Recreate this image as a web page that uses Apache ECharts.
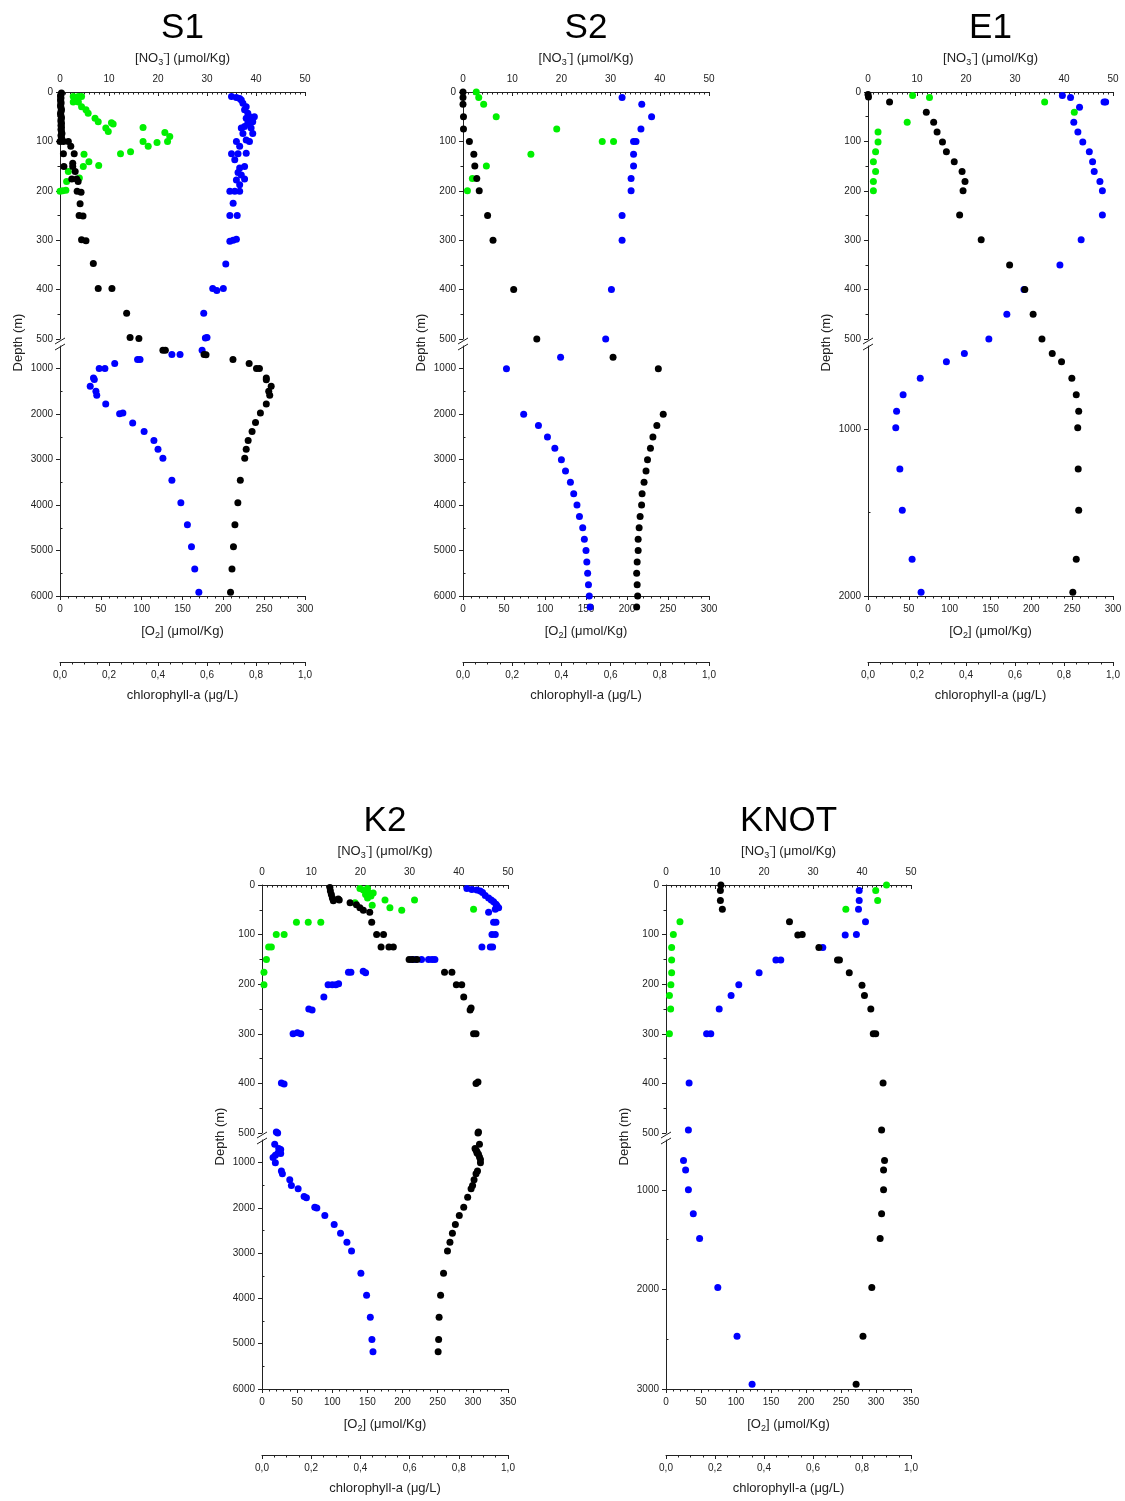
<!DOCTYPE html>
<html>
<head>
<meta charset="utf-8">
<script src="https://cdn.jsdelivr.net/npm/echarts@6/dist/echarts.min.js"></script>
<style>
  html, body { margin: 0; padding: 0; background: #fff; }
  #chart { width: 1125px; height: 1501px; }
</style>
</head>
<body>
<div id="chart"></div>
<script>
// [depth (m), value] pairs
// NO3 in µmol/kg, O2 in µmol/kg, chlorophyll-a in µg/L
const S1_NO3 = [[2,0.3],[5,0.2],[8,0.1],[12,0.2],[16,0.1],[20,0.2],[24,0.2],[28,0.1],[32,0.2],[36,0.3],[40,0.2],[44,0.1],[48,0.2],[52,0.3],[56,0.2],[60,0.2],[64,0.3],[68,0.2],[72,0.3],[76,0.2],[80,0.3],[84,0.4],[88,0.2],[92,0.3],[96,0.4],
  [100,0.0],[100,0.7],[100,1.7],[110,2.2],[125,0.7],[125,2.9],[144,2.6],[151,0.8],[151,2.6],[161,3.1],[176,2.4],[176,3.4],[181,3.7],[201,3.5],[203,4.3],[226,4.1],[250,3.9],[251,4.7],[299,4.4],[301,5.3],[347,6.8],[398,7.8],[398,10.6],[448,13.6],[497,14.3],[499,16.1],
  [593,21.0],[595,21.5],[688,29.4],[690,29.8],[798,35.3],[886,38.6],[997,40.1],[997,40.7],[1202,42.1],[1240,42.1],[1387,43.1],[1497,42.6],[1585,42.8],[1776,42.1],[1974,40.9],[2182,39.9],[2380,39.2],[2579,38.4],[2769,38.0],[2968,37.7],[3453,36.8],[3947,36.3],[4433,35.7],[4918,35.4],[5404,35.1],[5918,34.8]];
const S1_O2 = [[9,210],[11,216],[13,220],[16,222],[23,224],[30,228],[36,226],[43,230],[50,232],[50,238],[53,228],[60,236],[63,230],[70,226],[73,222],[73,234],[84,236],[84,224],[97,228],[100,216],[100,232],[110,220],[124,228],[125,210],[125,218],[137,214],[151,226],[154,220],[163,218],[168,222],[176,226],[178,216],[188,220],[201,208],[201,214],[201,220],[225,212],[250,208],[250,217],[298,216],[300,212],[302,208],[348,203],[398,187],[402,192],[398,200],[448,176],[497,180],[498,178],
  [593,174],[688,137],[688,147],[798,98],[798,95],[886,67],[997,48],[997,55],[1202,41],[1239,42],[1387,37],[1497,44],[1586,45],[1776,56],[1974,77],[1990,73],[2192,89],[2380,103],[2579,115],[2769,120],[2968,126],[3453,137],[3947,148],[4433,156],[4918,161],[5404,165],[5918,170]];
const S1_CHL = [[9,0.054],[9,0.075],[9,0.088],[16,0.061],[20,0.054],[20,0.075],[30,0.088],[36,0.106],[43,0.115],[53,0.143],[60,0.156],[62,0.21],[65,0.217],[73,0.187],[80,0.197],[72,0.339],[82,0.428],[90,0.448],[100,0.339],[102,0.396],[100,0.439],[110,0.36],[121,0.288],[125,0.247],[126,0.098],[141,0.118],[149,0.158],[151,0.095],[161,0.034],[174,0.079],[181,0.027],[199,0.024],[201,0.0],[200,0.011]];

const S2_NO3 = [[0,0],[11,0],[25,0],[50,0.1],[75,0.1],[100,1.3],[126,2.2],[150,2.4],[175,2.8],[200,3.3],[250,5.0],[300,6.1],[400,10.3],[500,15.0],
  [750,30.5],[1000,39.7],[2000,40.7],[2250,39.4],[2500,38.6],[2750,38.1],[3000,37.5],[3250,37.2],[3500,36.8],[3750,36.4],[4000,36.3],[4250,36.0],[4500,35.8],[4750,35.6],[5000,35.6],[5250,35.4],[5500,35.3],[5750,35.4],[6000,35.5],[6240,35.3]];
const S2_O2 = [[11,194],[25,218],[50,230],[75,217],[100,208],[100,211],[126,208],[150,208],[175,205],[200,205],[250,194],[300,194],[400,181],[500,174],
  [750,119],[1000,53],[2000,74],[2250,92],[2500,103],[2750,112],[3000,120],[3250,125],[3500,131],[3750,135],[4000,139],[4250,142],[4500,146],[4750,148],[5000,150],[5250,151],[5500,152],[5750,153],[6000,154],[6240,155]];
const S2_CHL = [[0,0.054],[11,0.064],[25,0.084],[50,0.135],[75,0.381],[100,0.566],[100,0.612],[126,0.276],[150,0.095],[175,0.038],[200,0.018]];

const E1_NO3 = [[5,0],[10,0.1],[20,4.4],[41,11.9],[61,13.4],[81,14.1],[101,15.2],[121,16.0],[141,17.6],[161,19.2],[181,19.8],[200,19.4],[249,18.7],[299,23.1],[350,28.9],[400,32.0],[450,33.7],[500,35.5],
  [545,37.6],[595,39.5],[693,41.6],[792,42.5],[892,43.0],[990,42.8],[1238,42.9],[1485,43.0],[1780,42.5],[1978,41.8]];
const E1_O2 = [[7,238],[11,248],[20,289],[20,291],[31,259],[61,252],[81,257],[101,263],[121,271],[141,275],[161,277],[181,284],[200,287],[249,287],[299,261],[350,235],[400,191],[450,170],[500,148],
  [545,118],[595,96],[693,64],[792,43],[892,35],[990,34],[1238,39],[1485,42],[1780,54],[1978,65]];
const E1_CHL = [[7,0.182],[11,0.251],[20,0.721],[41,0.842],[61,0.160],[81,0.041],[101,0.041],[121,0.031],[141,0.022],[161,0.031],[181,0.022],[200,0.022]];

const K2_NO3 = [[5,13.8],[12,13.9],[19,14.1],[26,14.3],[32,14.5],[28,15.5],[30,15.7],[36,17.9],[40,19.2],[46,19.9],[51,20.6],[55,21.9],[75,22.3],[100,23.3],[100,24.7],[125,24.2],[125,25.8],[125,26.7],[150,29.9],[150,30.6],[150,31.5],[176,37.1],[176,38.6],[201,39.5],[201,40.6],[226,41.0],[248,42.5],[252,42.3],[300,43.0],[300,43.5],[397,43.9],[400,43.5],[498,44.0],[500,43.9],
  [593,44.2],[689,43.3],[720,43.5],[760,43.7],[785,43.7],[815,44.0],[874,44.2],[933,44.4],[1000,44.4],[1185,43.8],[1244,43.5],[1377,43.1],[1503,42.8],[1577,42.5],[1762,41.8],[1984,41.0],[2169,40.1],[2368,39.3],[2561,38.7],[2760,38.2],[2953,37.7],[3441,36.9],[3929,36.3],[4417,36.0],[4905,35.9],[5179,35.8]];
const K2_O2 = [[7,291.5],[9,298.6],[10,305.8],[12,310.5],[15,313.8],[21,317.6],[26,322.4],[30,326.2],[34,329.5],[39,332.9],[42,334.3],[46,336.7],[49,331.9],[55,322.4],[75,329.5],[75,332.9],[100,327.2],[100,331.9],[125,312.9],[125,324.8],[125,328.1],[150,213],[150,218],[150,227],[150,237],[150,242],[150,246],[176,123],[176,126.5],[174,144],[177,147.4],[201,94],[201,100],[201,105],[199,109],[226,88],[250,66.6],[252,71.3],[300,44.2],[298,50.4],[300,55.2],[399,27.6],[401,31.4],[498,20.4],[500,22.3],
  [593,18.1],[689,23.8],[712,26.6],[785,22.8],[800,26.6],[837,19],[889,15.7],[1000,19],[1185,27.6],[1244,29],[1377,39.5],[1503,41.8],[1577,51.4],[1747,59.9],[1777,63.2],[1984,75.1],[2000,78],[2169,89.4],[2368,102.7],[2561,111.7],[2760,120.8],[2953,127.4],[3441,140.7],[3929,148.8],[4417,154.1],[4905,156.4],[5179,157.9]];
const K2_CHL = [[7,0.398],[10,0.412],[7,0.429],[16,0.435],[19,0.421],[26,0.429],[22,0.443],[16,0.452],[36,0.378],[41,0.448],[30,0.50],[46,0.52],[51,0.568],[30,0.62],[49,0.86],[75,0.14],[75,0.188],[75,0.239],[100,0.058],[100,0.09],[125,0.027],[125,0.038],[150,0.018],[176,0.008],[201,0.008]];

const KNOT_NO3 = [[0,11.2],[11,11.1],[31,11.1],[49,11.5],[74,25.2],[101,26.9],[100,27.8],[126,31.2],[151,35.0],[151,35.4],[177,37.4],[202,40.0],[223,40.5],[250,41.8],[300,42.3],[300,42.8],[399,44.3],[494,44.0],
  [707,44.6],[800,44.4],[1000,44.4],[1240,44.0],[1490,43.7],[1980,42.0],[2470,40.2],[2953,38.8]];
const KNOT_O2 = [[11,276],[31,276],[49,275],[74,285],[101,256],[100,272],[126,224],[151,157],[151,164],[177,133],[201,104],[223,93],[250,76],[300,58],[300,64],[399,33],[494,32],
  [707,25],[800,28],[1000,32],[1240,39],[1490,48],[1980,74],[2470,101.5],[2953,123]];
const KNOT_CHL = [[0,0.90],[11,0.856],[31,0.864],[49,0.734],[74,0.057],[100,0.03],[126,0.023],[151,0.023],[177,0.023],[201,0.02],[223,0.014],[250,0.019],[300,0.014]];

// tick labels of the broken depth axis (lower part)
const DEEP_6000_MAJOR = [1000, 2000, 3000, 4000, 5000, 6000];
const DEEP_6000_MINOR = [1500, 2500, 3500, 4500, 5500];
const DEEP_2000_MAJOR = [1000, 2000];
const DEEP_2000_MINOR = [1500];
const DEEP_3000_MAJOR = [1000, 2000, 3000];
const DEEP_3000_MINOR = [1500, 2500];

const FONT = '"Liberation Sans", Arial, sans-serif';
const INK = '#222';
const BREAK_DEPTH = 500;

// rows: upper (0-500 m) and lower (500 m - bottom) plot boxes
const ROW_TOP = { upperTop: 92, upperH: 247, lowerTop: 346, lowerH: 250 };
const ROW_BOTTOM = { upperTop: 885, upperH: 248, lowerTop: 1140, lowerH: 249 };

const stations = [
  { name: 'S1', no3: S1_NO3, o2: S1_O2, chl: S1_CHL, left: 60, width: 245, row: ROW_TOP, deepMax: 6000, major: DEEP_6000_MAJOR, minor: DEEP_6000_MINOR, o2Max: 300 },
  { name: 'S2', no3: S2_NO3, o2: S2_O2, chl: S2_CHL, left: 463, width: 246, row: ROW_TOP, deepMax: 6000, major: DEEP_6000_MAJOR, minor: DEEP_6000_MINOR, o2Max: 300 },
  { name: 'E1', no3: E1_NO3, o2: E1_O2, chl: E1_CHL, left: 868, width: 245, row: ROW_TOP, deepMax: 2000, major: DEEP_2000_MAJOR, minor: DEEP_2000_MINOR, o2Max: 300 },
  { name: 'K2', no3: K2_NO3, o2: K2_O2, chl: K2_CHL, left: 262, width: 246, row: ROW_BOTTOM, deepMax: 6000, major: DEEP_6000_MAJOR, minor: DEEP_6000_MINOR, o2Max: 350 },
  { name: 'KNOT', no3: KNOT_NO3, o2: KNOT_O2, chl: KNOT_CHL, left: 666, width: 245, row: ROW_BOTTOM, deepMax: 3000, major: DEEP_3000_MAJOR, minor: DEEP_3000_MINOR, o2Max: 350 }
];

const lineStyle = { color: INK, width: 1 };
const labelStyle = { fontSize: 10, color: INK, fontFamily: FONT };
const nameStyle = {
  fontSize: 13, color: INK, fontFamily: FONT, lineHeight: 18,
  rich: {
    sub: { fontSize: 9, color: INK, fontFamily: FONT, verticalAlign: 'bottom' },
    sup: { fontSize: 9, color: INK, fontFamily: FONT, verticalAlign: 'top' }
  }
};
const plain = v => String(v);

const grids = [], xAxes = [], yAxes = [], series = [], graphics = [];

function hiddenX(gridIndex, max) {
  xAxes.push({ gridIndex, type: 'value', min: 0, max, show: false });
  return xAxes.length - 1;
}

function addScatter(xi, yi, data, color) {
  if (!data.length) return;
  series.push({
    type: 'scatter', xAxisIndex: xi, yAxisIndex: yi, data,
    symbolSize: 7, itemStyle: { color, opacity: 1 }, clip: false, silent: true
  });
}

// split [depth, value] into upper/lower parts as [value, depth]
function part(list, upper) {
  return list.filter(d => upper ? d[0] <= BREAK_DEPTH : d[0] > BREAK_DEPTH).map(d => [d[1], d[0]]);
}

stations.forEach(st => {
  const r = st.row;
  const gU = grids.length;
  grids.push({ left: st.left, top: r.upperTop, width: st.width, height: r.upperH });
  const gL = grids.length;
  grids.push({ left: st.left, top: r.lowerTop, width: st.width, height: r.lowerH });

  // upper box: NO3 axis on top
  xAxes.push({
    gridIndex: gU, type: 'value', position: 'top', min: 0, max: 50, interval: 10,
    axisLine: { show: true, onZero: false, lineStyle },
    axisTick: { show: true, inside: true, length: 4, lineStyle },
    minorTick: { show: true, splitNumber: 10, length: 2.5, lineStyle },
    axisLabel: Object.assign({ margin: 8, formatter: plain }, labelStyle),
    splitLine: { show: false },
    name: '[NO{sub|3}{sup|-}] (μmol/Kg)', nameLocation: 'middle', nameGap: 25,
    nameTextStyle: nameStyle
  });
  const xNo3U = xAxes.length - 1;
  const xO2U = hiddenX(gU, st.o2Max);
  const xChlU = hiddenX(gU, 1);

  // lower box: O2 axis and chlorophyll axis at the bottom
  const xNo3L = hiddenX(gL, 50);
  xAxes.push({
    gridIndex: gL, type: 'value', position: 'bottom', min: 0, max: st.o2Max, interval: 50,
    axisLine: { show: true, onZero: false, lineStyle },
    axisTick: { show: true, length: 4, lineStyle },
    minorTick: { show: true, splitNumber: 5, length: 2.5, lineStyle },
    axisLabel: Object.assign({ margin: 8, formatter: plain }, labelStyle),
    splitLine: { show: false },
    name: '[O{sub|2}] (μmol/Kg)', nameLocation: 'middle', nameGap: 26,
    nameTextStyle: nameStyle
  });
  const xO2L = xAxes.length - 1;
  xAxes.push({
    gridIndex: gL, type: 'value', position: 'bottom', offset: 66, min: 0, max: 1, interval: 0.2,
    axisLine: { show: true, onZero: false, lineStyle },
    axisTick: { show: true, length: 4, lineStyle },
    minorTick: { show: true, splitNumber: 4, length: 2.5, lineStyle },
    axisLabel: Object.assign({ margin: 8, formatter: v => v.toFixed(1).replace('.', ',') }, labelStyle),
    splitLine: { show: false },
    name: 'chlorophyll-a (μg/L)', nameLocation: 'middle', nameGap: 27,
    nameTextStyle: { fontSize: 13, color: INK, fontFamily: FONT }
  });
  const xChlL = xAxes.length - 1;

  // depth axes
  yAxes.push({
    gridIndex: gU, type: 'value', inverse: true, min: 0, max: BREAK_DEPTH, interval: 100,
    axisLine: { show: true, onZero: false, lineStyle },
    axisTick: { show: true, length: 4, lineStyle },
    minorTick: { show: true, splitNumber: 2, length: 2.5, lineStyle },
    axisLabel: Object.assign({ margin: 7, formatter: plain }, labelStyle),
    splitLine: { show: false }
  });
  const yU = yAxes.length - 1;
  yAxes.push({
    gridIndex: gL, type: 'value', inverse: true, min: BREAK_DEPTH, max: st.deepMax,
    axisLine: { show: true, onZero: false, lineStyle },
    axisTick: { show: true, length: 4, lineStyle, customValues: st.major },
    axisLabel: Object.assign({ margin: 7, customValues: st.major, formatter: plain }, labelStyle),
    splitLine: { show: false }
  });
  const yL = yAxes.length - 1;
  yAxes.push({
    gridIndex: gL, type: 'value', inverse: true, min: BREAK_DEPTH, max: st.deepMax,
    axisLine: { show: false },
    axisTick: { show: true, length: 2.5, lineStyle, customValues: st.minor },
    axisLabel: { show: false },
    splitLine: { show: false }
  });

  // blue O2, then green chlorophyll, black NO3 on top
  addScatter(xO2U, yU, part(st.o2, true), '#0000ff');
  addScatter(xO2L, yL, part(st.o2, false), '#0000ff');
  addScatter(xChlU, yU, part(st.chl, true), '#00f000');
  addScatter(xChlL, yL, part(st.chl, false), '#00f000');
  addScatter(xNo3U, yU, part(st.no3, true), '#000000');
  addScatter(xNo3L, yL, part(st.no3, false), '#000000');

  // station title, depth label and axis break marks
  const cx = st.left + st.width / 2;
  graphics.push({
    type: 'text', x: cx, y: r.upperTop - 64,
    style: { text: st.name, fontSize: 35, fontFamily: FONT, fill: '#000', align: 'center', verticalAlign: 'middle', textAlign: 'center', textVerticalAlign: 'middle' }
  });
  const breakY = r.upperTop + r.upperH;
  graphics.push({
    type: 'text', x: st.left - 42, y: (breakY + r.lowerTop) / 2, rotation: Math.PI / 2,
    style: { text: 'Depth (m)', fontSize: 13, fontFamily: FONT, fill: INK, align: 'center', verticalAlign: 'middle', textAlign: 'center', textVerticalAlign: 'middle' }
  });
  [breakY + 2, r.lowerTop + 1].forEach(y => {
    graphics.push({
      type: 'line', shape: { x1: st.left - 5, y1: y + 3, x2: st.left + 5, y2: y - 3 },
      style: { stroke: INK, lineWidth: 1 }
    });
  });
});

const chart = echarts.init(document.getElementById('chart'));
chart.setOption({
  animation: false,
  backgroundColor: '#fff',
  grid: grids,
  xAxis: xAxes,
  yAxis: yAxes,
  series: series,
  graphic: graphics
});
</script>
</body>
</html>
